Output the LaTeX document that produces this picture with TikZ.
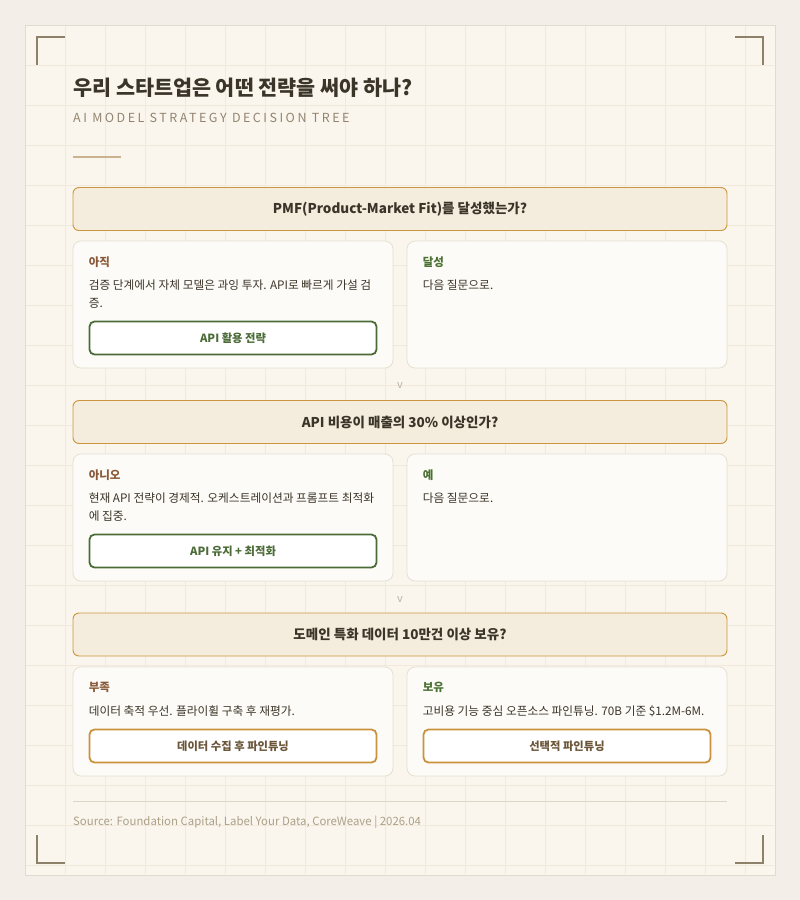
\documentclass[tikz,border=0pt]{standalone}
\usepackage{fontspec}
\setmainfont{Noto Sans CJK KR}
\usepackage{xcolor}
\usepackage{tikz}
\usetikzlibrary{positioning}
\definecolor{pagebg}{HTML}{F3EFE8}
\definecolor{cardbg}{HTML}{FAF6EE}
\definecolor{cardline}{HTML}{E2DBCD}
\definecolor{gridtone}{HTML}{F0E9DC}
\definecolor{bracket}{HTML}{8E8169}
\definecolor{ink}{HTML}{3B3428}
\definecolor{subink}{HTML}{928470}
\definecolor{accent}{HTML}{C9B48F}
\definecolor{qfill}{HTML}{F4ECDC}
\definecolor{qline}{HTML}{CC9540}
\definecolor{afill}{HTML}{FDFBF7}
\definecolor{aline}{HTML}{E6DFD2}
\definecolor{nobrown}{HTML}{8A5A3A}
\definecolor{yesgreen}{HTML}{4C7135}
\definecolor{btngreen}{HTML}{4B6B37}
\definecolor{btnorange}{HTML}{C8923E}
\definecolor{btnbrown}{HTML}{6B5639}
\definecolor{chevtone}{HTML}{BDB29E}
\definecolor{foot}{HTML}{ACA088}
\definecolor{footline}{HTML}{DDD5C7}

\begin{document}
\begin{tikzpicture}[
    x=1pt, y=-1pt,
    question/.style={rectangle, draw=qline, fill=qfill, rounded corners=6pt, line width=0.9pt, minimum width=654pt, minimum height=43pt, text=ink, font=\fontsize{13.5}{16}\selectfont\bfseries},
    answer/.style={rectangle, draw=aline, fill=afill, rounded corners=8pt, line width=0.8pt, minimum width=320pt},
    tag/.style={inner sep=0pt, font=\fontsize{11.5}{13}\selectfont\bfseries},
    body/.style={inner sep=0pt, align=left, text=ink, font=\fontsize{11.7}{17.5}\selectfont},
    greenbtn/.style={rectangle, draw=btngreen, fill=white, rounded corners=5pt, line width=1.8pt, minimum width=287pt, minimum height=33pt, text=btngreen, font=\fontsize{11.3}{13}\selectfont\bfseries},
    orangebtn/.style={greenbtn, draw=btnorange, text=btnbrown},
    chev/.style={inner sep=0pt, text=chevtone, font=\fontsize{11}{13}\selectfont}
]
    % canvas and card
    \fill[pagebg] (0,0) rectangle (800,900);
    \useasboundingbox (0,0) rectangle (800,900);
    \draw[cardline, fill=cardbg, line width=1pt] (25,25) rectangle (775,875);
    \foreach \gx in {65,105,...,745} \draw[gridtone, line width=0.8pt] (\gx,26) -- (\gx,874);
    \foreach \gy in {65,105,...,865} \draw[gridtone, line width=0.8pt] (26,\gy) -- (774,\gy);

    % corner brackets
    \draw[bracket, line width=2pt] (37,65) -- (37,37) -- (65,37);
    \draw[bracket, line width=2pt] (735,37) -- (763,37) -- (763,65);
    \draw[bracket, line width=2pt] (37,835) -- (37,863) -- (65,863);
    \draw[bracket, line width=2pt] (735,863) -- (763,863) -- (763,835);

    % heading
    \node[anchor=base west, inner sep=0pt, text=ink, font=\fontsize{20.7}{24}\selectfont\bfseries] (title) at (73,95) {우리 스타트업은 어떤 전략을 써야 하나?};
    \node[anchor=base west, inner sep=0pt, text=subink, font=\fontsize{12.5}{14}\selectfont\addfontfeatures{LetterSpace=20}] (subtitle) at (73,122) {AI MODEL STRATEGY DECISION TREE};
    \draw[accent, line width=1.5pt] (73,157) -- (121,157);

    % question 1
    \node[question] (q1) at (400,209) {PMF(Product-Market Fit)를 달성했는가?};
    \node[answer, minimum height=127pt] (a1) at (233,304.5) {};
    \node[answer, minimum height=127pt] (b1) at (567,304.5) {};
    \node[tag, text=nobrown, below right=15.5pt and 16pt of a1.north west] (a1tag) {아직};
    \node[body, below=12.5pt of a1tag.south west, anchor=north west] (a1txt) {검증 단계에서 자체 모델은 과잉 투자. API로 빠르게 가설 검\\증.};
    \node[greenbtn, above=13pt of a1.south] (a1btn) {API 활용 전략};
    \node[tag, text=yesgreen, below right=15.5pt and 16pt of b1.north west] (b1tag) {달성};
    \node[body, below=12.5pt of b1tag.south west, anchor=north west] (b1txt) {다음 질문으로.};

    \node[chev] (v1) at (400,386) {v};

    % question 2
    \node[question] (q2) at (400,422) {API 비용이 매출의 30\% 이상인가?};
    \node[answer, minimum height=127pt] (a2) at (233,517.5) {};
    \node[answer, minimum height=127pt] (b2) at (567,517.5) {};
    \node[tag, text=nobrown, below right=15.5pt and 16pt of a2.north west] (a2tag) {아니오};
    \node[body, below=12.5pt of a2tag.south west, anchor=north west] (a2txt) {현재 API 전략이 경제적. 오케스트레이션과 프롬프트 최적화\\에 집중.};
    \node[greenbtn, above=13pt of a2.south] (a2btn) {API 유지 + 최적화};
    \node[tag, text=yesgreen, below right=15.5pt and 16pt of b2.north west] (b2tag) {예};
    \node[body, below=12.5pt of b2tag.south west, anchor=north west] (b2txt) {다음 질문으로.};

    \node[chev] (v2) at (400,600) {v};

    % question 3
    \node[question] (q3) at (400,634.5) {도메인 특화 데이터 10만건 이상 보유?};
    \node[answer, minimum height=109pt] (a3) at (233,721.5) {};
    \node[answer, minimum height=109pt] (b3) at (567,721.5) {};
    \node[tag, text=nobrown, below right=15.5pt and 16pt of a3.north west] (a3tag) {부족};
    \node[body, below=12.5pt of a3tag.south west, anchor=north west] (a3txt) {데이터 축적 우선. 플라이휠 구축 후 재평가.};
    \node[orangebtn, above=13pt of a3.south] (a3btn) {데이터 수집 후 파인튜닝};
    \node[tag, text=yesgreen, below right=15.5pt and 16pt of b3.north west] (b3tag) {보유};
    \node[body, below=12.5pt of b3tag.south west, anchor=north west] (b3txt) {고비용 기능 중심 오픈소스 파인튜닝. 70B 기준 \$1.2M-6M.};
    \node[orangebtn, above=13pt of b3.south] (b3btn) {선택적 파인튜닝};

    % footer
    \draw[footline, line width=1pt] (73,801) -- (727,801);
    \node[anchor=base west, inner sep=0pt, text=foot, font=\fontsize{11.4}{13}\selectfont] (source) at (73,825) {Source: Foundation Capital, Label Your Data, CoreWeave | 2026.04};
\end{tikzpicture}
\end{document}
